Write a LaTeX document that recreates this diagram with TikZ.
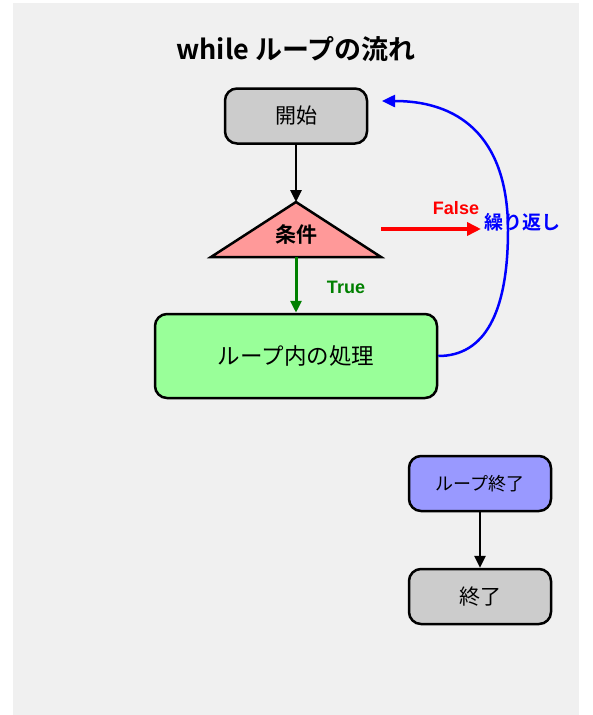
\documentclass[tikz,border=0pt]{standalone}
\usepackage{fontspec}
\usetikzlibrary{arrows.meta}
\newfontfamily\jp{Noto Sans CJK JP}[BoldFont={Noto Sans CJK JP Bold}]
\newfontfamily\lat{Liberation Sans}
\definecolor{bggray}{HTML}{F0F0F0}
\definecolor{boxgray}{HTML}{CCCCCC}
\definecolor{condred}{HTML}{FF9999}
\definecolor{loopgreen}{HTML}{99FF99}
\definecolor{endblue}{HTML}{9999FF}
\definecolor{truegreen}{HTML}{008000}

\begin{document}
\begin{tikzpicture}[x=1pt,y=-1pt,
    box/.style={draw=black, line width=2.5pt, rounded corners=12pt, minimum width=142pt,
        minimum height=55pt, inner sep=0pt, font=\jp\fontsize{21}{25}\selectfont},
    flow/.style={-{Triangle[length=12pt,width=11pt]}, line width=2.5pt}]
        \useasboundingbox (0,0) rectangle (592,715);
        \fill[bggray] (13,3) rectangle (579,715);

        \node[font=\jp\bfseries\fontsize{27}{31}\selectfont] (title) at (296,49) {while ループの流れ};

        \node[box, fill=boxgray] (start) at (296,116) {開始};
        \draw[fill=condred, line width=2.5pt, line join=miter] (296,202) coordinate (apex) -- (381,257) -- (211,257) -- cycle;
        \coordinate (base) at (296,257);
        \coordinate (right) at (381,229);
        \coordinate (rep) at (481,229);
        \coordinate (bend) at (508,230);
        \coordinate (back) at (382,101);
        \node[font=\jp\bfseries\fontsize{21}{25}\selectfont] (cond) at (296,234) {条件};
        \node[box, fill=loopgreen, minimum width=282pt, minimum height=84pt, font=\jp\fontsize{22.5}{27}\selectfont] (body) at (296,356) {ループ内の処理};
        \node[box, fill=endblue, font=\jp\fontsize{18}{22}\selectfont] (loopend) at (480,483.5) {ループ終了};
        \node[box, fill=boxgray] (stop) at (480,596.5) {終了};

        \draw[flow] (start) -- (apex);
        \draw[flow, color=truegreen, line width=3pt] (base) -- (body);
        \node[font=\lat\bfseries\fontsize{18}{22}\selectfont, color=truegreen] (truelbl) at (346,287) {True};
        \draw[-{Triangle[length=14pt,width=13pt]}, color=red, line width=4pt] (right) -- (rep);
        \node[font=\lat\bfseries\fontsize{18}{22}\selectfont, color=red] (falselbl) at (456,208) {False};
        \draw[-{Triangle[length=13pt,width=12pt]}, color=blue, line width=2.5pt] (body.east) .. controls (484,356) and (508,314) .. (bend) .. controls (508,144) and (466,101) .. (back);
        \node[font=\jp\bfseries\fontsize{19}{23}\selectfont, color=blue] (replbl) at (522,222) {繰り返し};
        \draw[flow] (loopend) -- (stop);
\end{tikzpicture}
\end{document}
